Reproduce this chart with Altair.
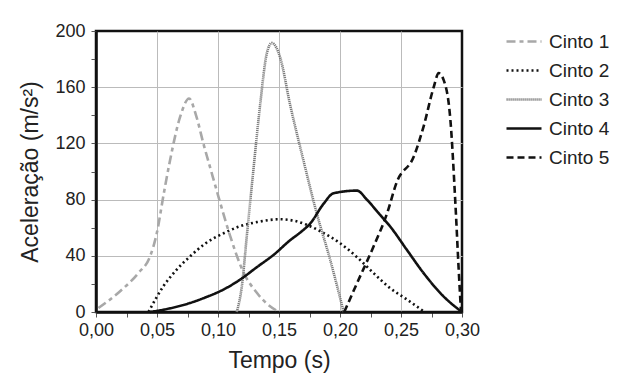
import altair as alt
import pandas as pd

series_names = ["Cinto 1", "Cinto 2", "Cinto 3", "Cinto 4", "Cinto 5"]

c1_t = [0.002, 0.020, 0.035, 0.0443, 0.0498, 0.0555, 0.0607, 0.069, 0.0763, 0.082, 0.088, 0.0945, 0.1004, 0.110, 0.121, 0.132, 0.140, 0.148]
c1_a = [2.8, 15, 28, 39.5, 56, 84, 108, 139, 152, 140, 120, 100, 82, 54, 28, 13.5, 6, 1]

c2_t = [0.043, 0.055, 0.066, 0.077, 0.090, 0.1045, 0.118, 0.132, 0.151, 0.162, 0.173, 0.187, 0.200, 0.214, 0.2275, 0.241, 0.255, 0.2685]
c2_a = [0, 18, 30, 39.5, 49, 56, 61, 64, 66, 65, 62, 56, 49, 39, 27.7, 17, 8.8, 0.5]

c3_t = [0.1154, 0.1195, 0.1236, 0.129, 0.1346, 0.140, 0.1441, 0.151, 0.159, 0.170, 0.181, 0.192, 0.203]
c3_a = [0, 18, 54, 101, 148, 184, 191.5, 181, 148, 108, 70, 37, 0]

c4_t = [0.0443, 0.060, 0.077, 0.090, 0.1045, 0.118, 0.132, 0.146, 0.159, 0.168, 0.1756, 0.1865, 0.1947, 0.2139, 0.222, 0.232, 0.241, 0.255, 0.2685, 0.285, 0.300]
c4_a = [0, 2.5, 6.4, 10.5, 16, 23, 32, 41, 51, 57, 63, 77, 84.5, 86.4, 80, 70, 61, 44, 27.7, 11, 0]

c5_t = [0.2035, 0.214, 0.2275, 0.2385, 0.2467, 0.2604, 0.2685, 0.2768, 0.2809, 0.285, 0.2905, 0.2946, 0.2973, 0.2992]
c5_a = [0, 20.6, 46.6, 70, 92.8, 110.5, 132, 160, 170, 165, 136.6, 77, 30, 0]

x_ticks = [0.0, 0.025, 0.05, 0.075, 0.10, 0.125, 0.15, 0.175, 0.20, 0.225, 0.25, 0.275, 0.30]
y_ticks = [0, 20, 40, 60, 80, 100, 120, 140, 160, 180, 200]

rows = []
for name, ts, accs in zip(series_names, [c1_t, c2_t, c3_t, c4_t, c5_t], [c1_a, c2_a, c3_a, c4_a, c5_a]):
    for i, (t, a) in enumerate(zip(ts, accs)):
        rows.append({"serie": name, "t": t, "a": a, "i": i})
df = pd.DataFrame(rows)

colors = ["#a8a8a8", "#111111", "#7a7a7a", "#111111", "#111111"]
dashes = [[9, 4, 4, 4], [2, 3], [1.2, 0.8], [1, 0], [7, 4]]

font = "Liberation Sans"

x_grid_test = "round(datum.value*1000) % 50 == 0 && datum.value > 0.001 && datum.value < 0.299"
y_grid_test = "datum.value % 40 == 0 && datum.value > 0 && datum.value < 200"

chart = alt.Chart(df).mark_line(strokeWidth=2.6, interpolate="monotone").encode(
    x=alt.X("t:Q", scale=alt.Scale(domain=[0, 0.30], nice=False),
            axis=alt.Axis(values=x_ticks, title="Tempo (s)",
                          labelExpr="round(datum.value*1000) % 50 == 0 ? replace(format(datum.value, '.2f'), '.', ',') : ''",
                          gridOpacity={"condition": {"test": x_grid_test, "value": 1}, "value": 0},
                          tickSize=5, labelPadding=4, titlePadding=10, labelFlush=False)),
    y=alt.Y("a:Q", scale=alt.Scale(domain=[0, 200], nice=False),
            axis=alt.Axis(values=y_ticks, title="Aceleração (m/s²)",
                          labelExpr="datum.value % 40 == 0 ? datum.label : ''",
                          gridOpacity={"condition": {"test": y_grid_test, "value": 1}, "value": 0},
                          tickSize=5, labelPadding=6, titlePadding=12)),
    color=alt.Color("serie:N", scale=alt.Scale(domain=series_names, range=colors), title=None),
    strokeDash=alt.StrokeDash("serie:N", scale=alt.Scale(domain=series_names, range=dashes), title=None),
    order="i:Q",
).properties(
    width=366, height=281,
    autosize=alt.AutoSizeParams(type="none"),
    padding={"left": 88, "top": 23, "right": 160, "bottom": 72},
).configure_view(
    stroke="#111111", strokeWidth=2.5
).configure_axis(
    labelFont=font, titleFont=font, labelFontSize=18, titleFontSize=23,
    labelColor="#222222", titleColor="#222222", titleFontWeight="normal",
    gridColor="#bbbbbb", gridWidth=1, tickColor="#555555",
    domain=True, domainColor="#111111", domainWidth=2.5,
).configure_legend(
    orient="none", legendX=409, legendY=-8.5, padding=0,
    labelFont=font, labelFontSize=19, labelColor="#222222",
    symbolType="stroke", symbolSize=1225, symbolStrokeWidth=2.6,
    labelOffset=6, rowPadding=-5,
)

chart.save("out.html", embed_options={"renderer": "svg", "actions": False})
